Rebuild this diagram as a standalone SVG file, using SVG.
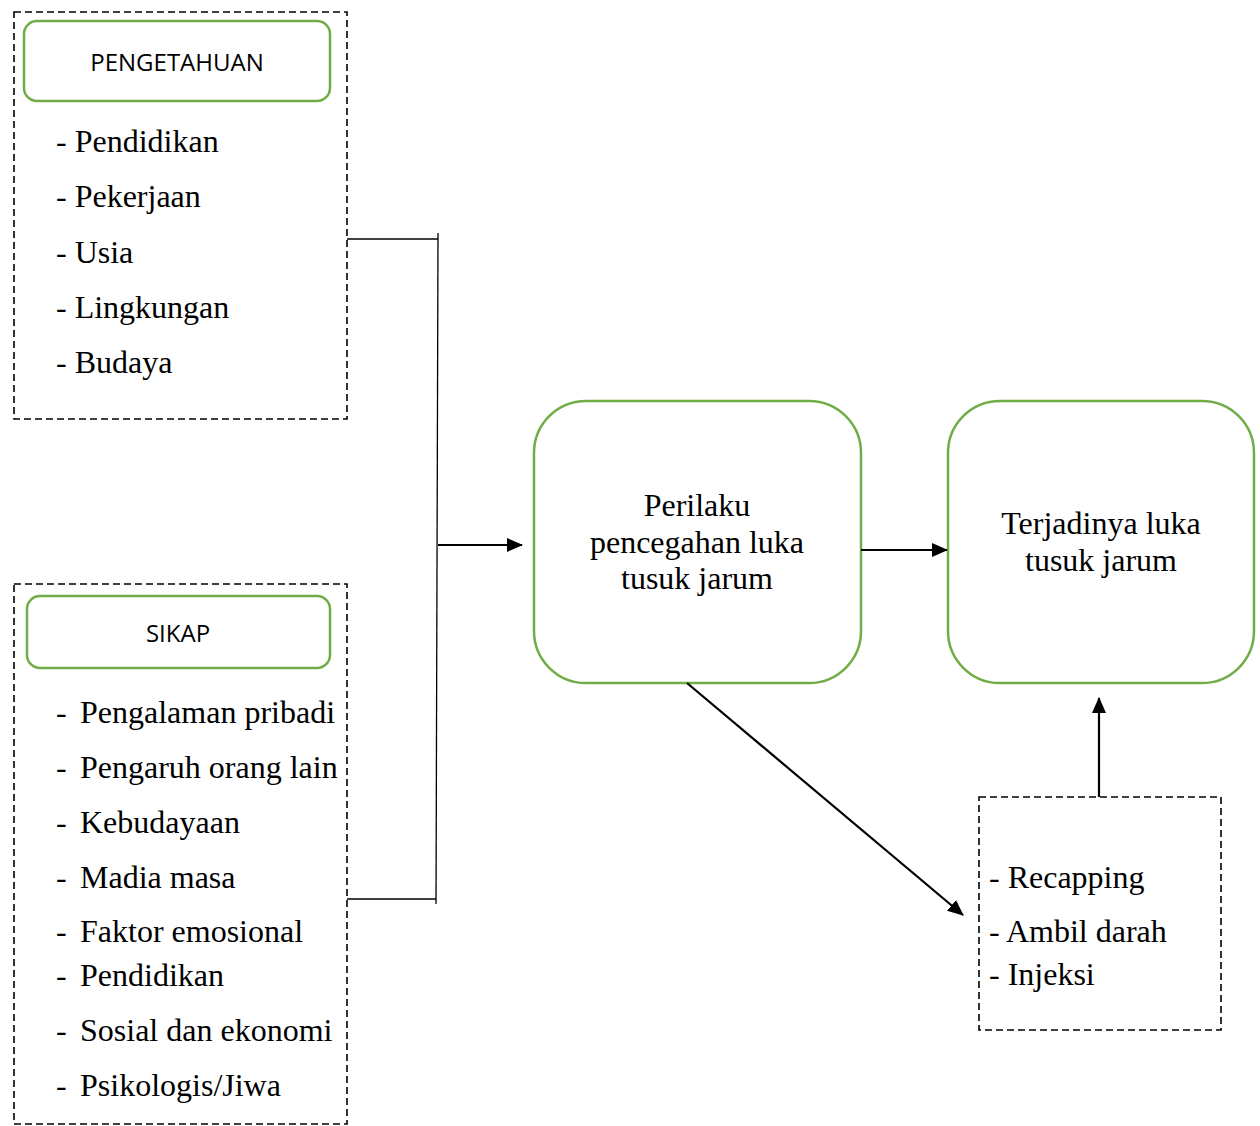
<svg xmlns="http://www.w3.org/2000/svg" width="1260" height="1126" viewBox="0 0 1260 1126">
<style>
.dash{fill:none;stroke:#000;stroke-width:1.6;stroke-dasharray:7 4}
.green{fill:#fff;stroke:#70AD47;stroke-width:2.5}
.hd{font-family:"Open Sans","Noto Sans",sans-serif;font-size:24px;text-anchor:middle;fill:#000}
.it{font-family:"Liberation Serif","Times New Roman",serif;font-size:32px;fill:#000}
.mt{font-family:"Liberation Serif","Times New Roman",serif;font-size:32px;fill:#000;text-anchor:middle}
.ln{fill:none;stroke:#000;stroke-width:1.3}
.ar{fill:none;stroke:#000;stroke-width:2.2}
</style>
<defs>
<marker id="ah2" markerWidth="16" markerHeight="16" refX="15" refY="8" orient="auto" markerUnits="userSpaceOnUse" viewBox="0 0 16 16">
<path d="M0,1 L16,8 L0,15 z" fill="#000"/>
</marker>
</defs>
<rect width="1260" height="1126" fill="#fff"/>

<g id="pengetahuan">
<rect class="dash" x="14" y="12" width="333" height="407"/>
<rect class="green" x="24" y="21" width="306" height="80" rx="13"/>
<text class="hd" x="177" y="71">PENGETAHUAN</text>
<text class="it" x="56" y="152">- Pendidikan</text>
<text class="it" x="56" y="207">- Pekerjaan</text>
<text class="it" x="56" y="263">- Usia</text>
<text class="it" x="56" y="318">- Lingkungan</text>
<text class="it" x="56" y="373">- Budaya</text>
</g>

<g id="sikap">
<rect class="dash" x="14" y="584" width="333" height="540"/>
<rect class="green" x="27" y="596" width="303" height="72" rx="13"/>
<text class="hd" x="178" y="642">SIKAP</text>
<text class="it" x="56" y="723">-</text><text class="it" x="80" y="723">Pengalaman pribadi</text>
<text class="it" x="56" y="778">-</text><text class="it" x="80" y="778">Pengaruh orang lain</text>
<text class="it" x="56" y="833">-</text><text class="it" x="80" y="833">Kebudayaan</text>
<text class="it" x="56" y="888">-</text><text class="it" x="80" y="888">Madia masa</text>
<text class="it" x="56" y="942">-</text><text class="it" x="80" y="942">Faktor emosional</text>
<text class="it" x="56" y="986">-</text><text class="it" x="80" y="986">Pendidikan</text>
<text class="it" x="56" y="1041">-</text><text class="it" x="80" y="1041">Sosial dan ekonomi</text>
<text class="it" x="56" y="1096">-</text><text class="it" x="80" y="1096">Psikologis/Jiwa</text>
</g>

<g id="perilaku">
<rect class="green" x="534" y="401" width="327" height="282" rx="52"/>
<text class="mt" x="697" y="516">Perilaku</text>
<text class="mt" x="697" y="553">pencegahan luka</text>
<text class="mt" x="697" y="589">tusuk jarum</text>
</g>

<g id="terjadinya">
<rect class="green" x="948" y="401" width="306" height="282" rx="52"/>
<text class="mt" x="1101" y="534">Terjadinya luka</text>
<text class="mt" x="1101" y="571">tusuk jarum</text>
</g>

<g id="tindakan">
<rect class="dash" x="979" y="797" width="242" height="233"/>
<text class="it" x="989" y="888">- Recapping</text>
<text class="it" x="989" y="942">- Ambil darah</text>
<text class="it" x="989" y="985">- Injeksi</text>
</g>

<g id="connectors">
<polyline class="ln" points="347,239 438,239"/>
<line class="ln" x1="438" y1="233" x2="436" y2="904"/>
<polyline class="ln" points="347,899 436,899"/>
<line class="ar" x1="438" y1="545" x2="522" y2="545" marker-end="url(#ah2)"/>
<line class="ar" x1="861" y1="550" x2="947" y2="550" marker-end="url(#ah2)"/>
<line class="ar" x1="687" y1="683" x2="963" y2="915" marker-end="url(#ah2)"/>
<line class="ar" x1="1099" y1="797" x2="1099" y2="698" marker-end="url(#ah2)"/>
</g>
</svg>
